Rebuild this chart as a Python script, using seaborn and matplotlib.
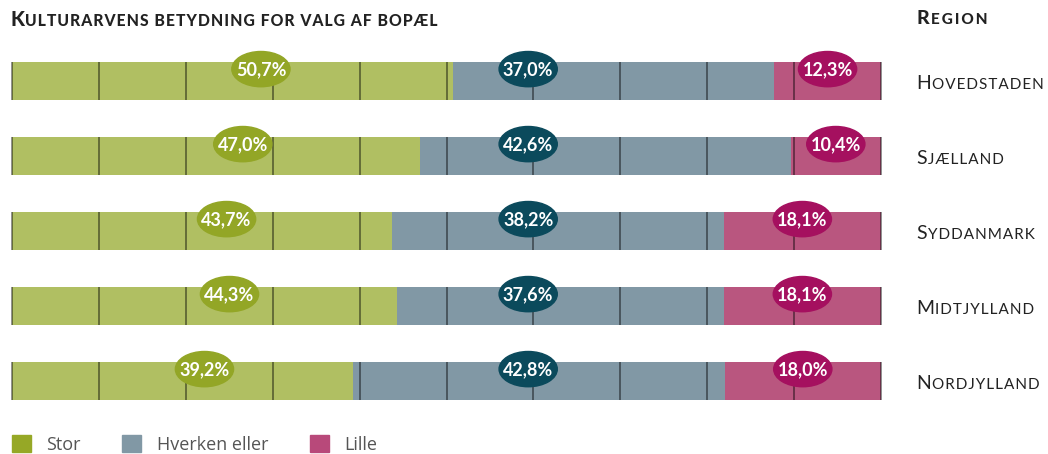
import matplotlib
matplotlib.use("Agg")
import matplotlib.pyplot as plt
import matplotlib.transforms as mtransforms
from matplotlib.patches import Ellipse, Patch
from matplotlib.offsetbox import TextArea, HPacker, AnnotationBbox
import pandas as pd
import seaborn as sns

# data (percent per region)
regions = ["Hovedstaden", "Sjælland", "Syddanmark", "Midtjylland", "Nordjylland"]
stor = [50.7, 47.0, 43.7, 44.3, 39.2]
hverken = [37.0, 42.6, 38.2, 37.6, 42.8]
lille = [12.3, 10.4, 18.1, 18.1, 18.0]
categories = ["Stor", "Hverken eller", "Lille"]

bar_colors = ["#b0bf62", "#8198a5", "#b9567f"]
badge_colors = ["#93a626", "#0b4a5c", "#a5105f"]
legend_colors = ["#96a826", "#8198a5", "#b8497a"]
text_color = "#222222"

sns.set_theme(style="white")
plt.rcParams["font.family"] = ["Lato", "DejaVu Sans"]

df = pd.DataFrame({"region": regions, "stor": stor,
                   "hverken": hverken, "lille": lille})
df["end_stor"] = df["stor"]
df["end_hverken"] = df["stor"] + df["hverken"]
df["end_lille"] = df["end_hverken"] + df["lille"]

W, H = 1048, 454
fig = plt.figure(figsize=(W / 100, H / 100), dpi=100)
ax = fig.add_axes([12 / W, 1 - 418.5 / H, 869 / W, 375 / H])

bar_w = 0.507
# stacked bars: draw cumulative totals from the back
for col, color in zip(["end_lille", "end_hverken", "end_stor"],
                      bar_colors[::-1]):
    sns.barplot(data=df, x=col, y="region", order=regions, color=color,
                saturation=1, width=bar_w, errorbar=None, linewidth=0,
                ax=ax)

ax.set_xlim(0, 100)
ax.set_ylim(4.5, -0.5)
ax.axis("off")

# vertical gridlines on top of each bar
ticks = list(range(0, 101, 10))
for i in range(len(regions)):
    ax.vlines(ticks, i - bar_w / 2, i + bar_w / 2, color="black",
              alpha=0.55, lw=1.1, zorder=3, clip_on=False)


def fmt(v):
    return f"{v:.1f}".replace(".", ",") + "%"


# value badges
for i in range(len(regions)):
    xs = [0.565 * stor[i], 59.4, stor[i] + hverken[i] + lille[i] / 2]
    vals = [stor[i], hverken[i], lille[i]]
    yc = i - bar_w / 2 + 0.095
    for x, v, c in zip(xs, vals, badge_colors):
        ax.add_patch(Ellipse((x, yc), 6.7, 0.47, color=c, zorder=4,
                             clip_on=False))
        ax.text(x, yc + 0.01, fmt(v), ha="center", va="center",
                color="white", fontsize=13, fontweight="bold", zorder=5)


def small_caps(word, big, small, weight, xy, xycoords, gap="\u200a"):
    props = dict(fontweight=weight, color=text_color,
                 family=["Lato", "DejaVu Sans"])
    rest = gap + gap.join(word[1:].upper())
    parts = [TextArea(word[0].upper(), textprops=dict(fontsize=big, **props)),
             TextArea(rest, textprops=dict(fontsize=small, **props))]
    box = HPacker(children=parts, align="baseline", pad=0, sep=0)
    ab = AnnotationBbox(box, xy, xycoords=xycoords, box_alignment=(0, 0.5),
                        frameon=False, pad=0, annotation_clip=False)
    fig.add_artist(ab)


blend = mtransforms.blended_transform_factory(fig.transFigure, ax.transData)
for i, r in enumerate(regions):
    small_caps(r, 14, 11, "normal", (916 / W, i + 0.03), blend)

small_caps("Kulturarvens betydning for valg af bopæl", 14.5, 11.3, "black",
           (10 / W, 1 - 19 / H), fig.transFigure)
small_caps("Region", 14, 11, "black", (916 / W, 1 - 19 / H), fig.transFigure,
           gap="\u200a\u200a")

handles = [Patch(color=c, label=l) for c, l in zip(legend_colors, categories)]
leg = fig.legend(handles=handles, loc="lower left",
                 bbox_to_anchor=(12 / W, 0 / H), ncol=3, frameon=False,
                 prop={"family": "Open Sans", "size": 13},
                 handlelength=1.05, handleheight=1.05, handletextpad=0.85,
                 columnspacing=2.3, borderaxespad=0, borderpad=0)
for t in leg.get_texts():
    t.set_color("#555555")

fig.savefig("out.png", dpi=100)
